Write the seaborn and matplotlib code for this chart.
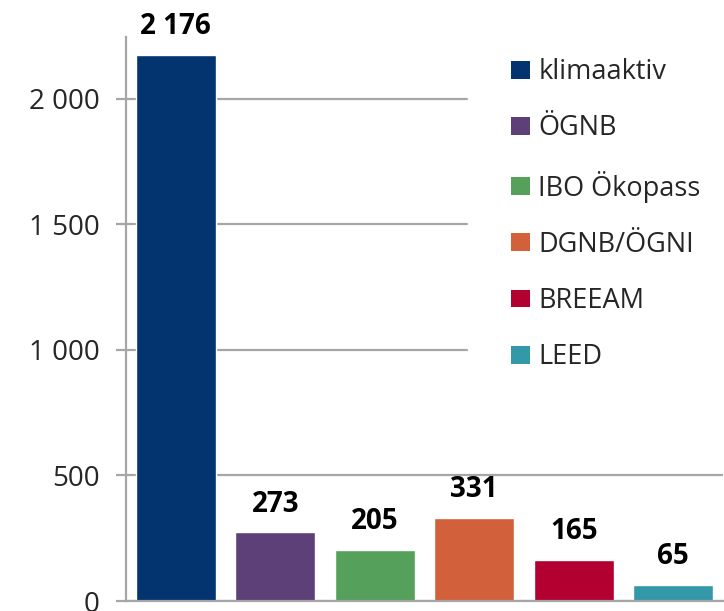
import numpy as np
import matplotlib
matplotlib.use("Agg")
import matplotlib.pyplot as plt
import seaborn as sns

# Data
systems = ["klimaaktiv", "ÖGNB", "IBO Ökopass", "DGNB/ÖGNI", "BREEAM", "LEED"]
counts = [2176, 273, 205, 331, 165, 65]
colors = ["#03346F", "#5E4079", "#55A05A", "#D2603A", "#B20030", "#3399A8"]
y_ticks = [0, 500, 1000, 1500, 2000]

sns.set_theme(style="white")
plt.rcParams["font.family"] = ["Open Sans", "DejaVu Sans"]

def fmt_space(v):
    return f"{int(round(v)):,}".replace(",", " ")

fig = plt.figure(figsize=(7.24, 6.11), dpi=100)
ax = fig.add_axes([126 / 724, 1 - 601 / 611, 597 / 724, 564 / 611])

sns.barplot(x=systems, y=counts, hue=systems, palette=colors, width=0.8,
            saturation=1, legend=True, ax=ax)

ax.set_xlim(-0.5, 5.5)
ax.set_ylim(0, 2247)

# Grid and axes
grid_col = "#A6A6A6"
ax.set_yticks(y_ticks)
ax.set_yticklabels([fmt_space(t) for t in y_ticks], fontsize=20)
ax.yaxis.grid(True, color=grid_col, linewidth=1.6)
ax.set_axisbelow(True)
ax.tick_params(axis="y", length=7, width=1.6, color=grid_col, pad=12, left=True)
ax.tick_params(axis="x", bottom=False, labelbottom=False)
ax.set_xlabel("")
ax.set_ylabel("")
for s in ["top", "right"]:
    ax.spines[s].set_visible(False)
for s in ["left", "bottom"]:
    ax.spines[s].set_color(grid_col)
    ax.spines[s].set_linewidth(1.6)

# Value labels
for c in ax.containers:
    ax.bar_label(c, labels=[fmt_space(v) for v in c.datavalues], padding=10,
                 fontsize=20, fontweight="bold", color="black")

# Legend
handles, labels = ax.get_legend_handles_labels()
for h in handles:
    h.set_edgecolor("none")
leg = ax.legend(handles, labels, loc="upper left",
                bbox_to_anchor=(468 / 724, 1 - 15 / 611 - 0.1, 256 / 724, 0.1),
                bbox_transform=fig.transFigure, mode="expand", frameon=True, fontsize=19.5,
                handlelength=0.7, handleheight=0.64, handletextpad=0.3,
                labelspacing=1.04, borderpad=1.6, borderaxespad=0, fancybox=False)
leg.get_frame().set_facecolor("white")
leg.get_frame().set_edgecolor("white")
leg.get_frame().set_alpha(1)

fig.savefig("out.png", dpi=100)
